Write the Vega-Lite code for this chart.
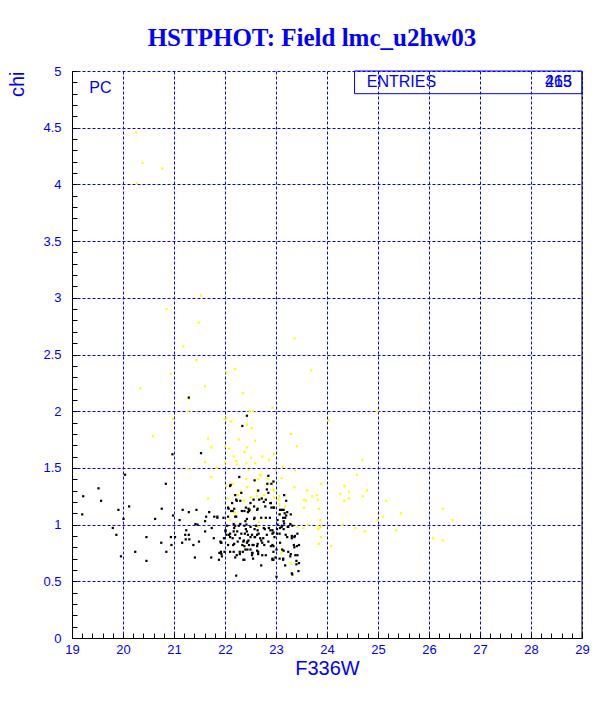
{
  "$schema": "https://vega.github.io/schema/vega-lite/v6.json",
  "width": 510,
  "height": 567,
  "autosize": {"type": "none"},
  "padding": {"left": 72, "top": 71, "right": 30, "bottom": 71},
  "background": "white",
  "config": {"view": {"stroke": null}},
  "title": {"text": "HSTPHOT: Field lmc_u2hw03", "font": "Liberation Serif", "fontSize": 25, "fontWeight": "bold", "color": "#0000ff", "anchor": "middle", "dx": -15, "offset": 14},
  "encoding": {
    "x": {
      "field": "m", "type": "quantitative",
      "scale": {"domain": [19, 29], "nice": false, "zero": false},
      "axis": {
        "title": "F336W", "titleFont": "Liberation Sans", "titleFontSize": 20, "titleFontWeight": "normal", "titleColor": "#0000ff",
        "titlePadding": 2,
        "values": [19,19.2,19.4,19.6,19.8,20,20.2,20.4,20.6,20.8,21,21.2,21.4,21.6,21.8,22,22.2,22.4,22.6,22.8,23,23.2,23.4,23.6,23.8,24,24.2,24.4,24.6,24.8,25,25.2,25.4,25.6,25.8,26,26.2,26.4,26.6,26.8,27,27.2,27.4,27.6,27.8,28,28.2,28.4,28.6,28.8,29],
        "labelExpr": "abs(datum.value - round(datum.value)) < 0.001 ? format(datum.value, 'd') : ''",
        "labelFont": "Liberation Sans", "labelFontSize": 13, "labelColor": "#0000ff", "labelPadding": 10, "labelFlush": false, "labelOverlap": false,
        "tickSize": -5, "tickColor": "#000000", "domainColor": "#000000", "domainWidth": 1,
        "grid": true, "gridColor": "#0000ff", "gridDash": [3, 2], "gridWidth": 1,
        "gridOpacity": {"condition": {"test": "abs(datum.value - round(datum.value)) < 0.001", "value": 1}, "value": 0}
      }
    },
    "y": {
      "field": "chi", "type": "quantitative",
      "scale": {"domain": [0, 5], "nice": false, "zero": false},
      "axis": {
        "title": "chi", "titleFont": "Liberation Sans", "titleFontSize": 20, "titleFontWeight": "normal", "titleColor": "#0000ff",
        "titleAnchor": "end", "titlePadding": 15,
        "values": [0,0.1,0.2,0.3,0.4,0.5,0.6,0.7,0.8,0.9,1,1.1,1.2,1.3,1.4,1.5,1.6,1.7,1.8,1.9,2,2.1,2.2,2.3,2.4,2.5,2.6,2.7,2.8,2.9,3,3.1,3.2,3.3,3.4,3.5,3.6,3.7,3.8,3.9,4,4.1,4.2,4.3,4.4,4.5,4.6,4.7,4.8,4.9,5],
        "labelExpr": "abs(datum.value*2 - round(datum.value*2)) < 0.001 ? format(datum.value, '~g') : ''",
        "labelFont": "Liberation Sans", "labelFontSize": 13, "labelColor": "#0000ff", "labelPadding": 16, "labelFlush": false, "labelOverlap": false,
        "tickSize": -5, "tickColor": "#000000", "domainColor": "#000000", "domainWidth": 1,
        "grid": true, "gridColor": "#0000ff", "gridDash": [3, 2], "gridWidth": 1,
        "gridOpacity": {"condition": {"test": "abs(datum.value*2 - round(datum.value*2)) < 0.001", "value": 1}, "value": 0}
      }
    }
  },
  "layer": [
    {
      "data": {"values": [
        {"m":20.26,"chi":4.46,"c":"y"},{"m":20.38,"chi":4.19,"c":"y"},{"m":20.77,"chi":4.14,"c":"y"},{"m":20.27,"chi":4.01,"c":"y"},
        {"m":21.53,"chi":3.02,"c":"y"},{"m":20.85,"chi":2.90,"c":"y"},{"m":21.49,"chi":2.78,"c":"y"},{"m":21.18,"chi":2.57,"c":"y"},
        {"m":23.36,"chi":2.64,"c":"y"},{"m":21.44,"chi":2.45,"c":"y"},{"m":20.94,"chi":2.33,"c":"y"},{"m":22.03,"chi":2.34,"c":"y"},
        {"m":22.20,"chi":2.37,"c":"y"},{"m":23.69,"chi":2.36,"c":"y"},
        {"m":20.34,"chi":2.20,"c":"y"},{"m":21.61,"chi":2.22,"c":"y"},{"m":21.29,"chi":2.11,"c":"y"},{"m":22.35,"chi":2.16,"c":"y"},
        {"m":21.28,"chi":2.00,"c":"y"},{"m":20.98,"chi":1.93,"c":"y"},{"m":20.59,"chi":1.78,"c":"y"},{"m":21.67,"chi":1.76,"c":"y"},
        {"m":21.73,"chi":1.68,"c":"y"},{"m":21.61,"chi":1.55,"c":"y"},{"m":21.28,"chi":1.49,"c":"y"},{"m":21.73,"chi":1.42,"c":"y"},
        {"m":21.67,"chi":1.23,"c":"y"},{"m":21.99,"chi":1.93,"c":"y"},{"m":22.03,"chi":1.94,"c":"y"},{"m":22.12,"chi":1.91,"c":"y"},
        {"m":22.48,"chi":2.00,"c":"y"},{"m":22.55,"chi":2.00,"c":"y"},{"m":22.43,"chi":1.88,"c":"y"},{"m":22.52,"chi":1.85,"c":"y"},
        {"m":22.59,"chi":1.74,"c":"y"},{"m":22.27,"chi":1.75,"c":"y"},{"m":22.00,"chi":1.69,"c":"y"},{"m":22.08,"chi":1.67,"c":"y"},
        {"m":22.43,"chi":1.68,"c":"y"},{"m":22.38,"chi":1.64,"c":"y"},{"m":22.17,"chi":1.60,"c":"y"},{"m":22.22,"chi":1.56,"c":"y"},
        {"m":22.51,"chi":1.59,"c":"y"},{"m":22.00,"chi":1.55,"c":"y"},{"m":22.24,"chi":1.53,"c":"y"},{"m":22.42,"chi":1.54,"c":"y"},
        {"m":22.59,"chi":1.54,"c":"y"},{"m":21.84,"chi":1.50,"c":"y"},{"m":22.46,"chi":1.48,"c":"y"},{"m":22.68,"chi":1.44,"c":"y"},
        {"m":22.42,"chi":1.40,"c":"y"},{"m":22.65,"chi":1.40,"c":"y"},{"m":22.16,"chi":1.36,"c":"y"},{"m":22.03,"chi":1.34,"c":"y"},
        {"m":22.43,"chi":1.33,"c":"y"},{"m":22.31,"chi":1.29,"c":"y"},{"m":22.25,"chi":1.26,"c":"y"},{"m":22.63,"chi":1.30,"c":"y"},
        {"m":22.04,"chi":1.23,"c":"y"},{"m":22.51,"chi":1.24,"c":"y"},{"m":22.50,"chi":1.13,"c":"y"},{"m":22.18,"chi":1.11,"c":"y"},
        {"m":22.10,"chi":1.04,"c":"y"},{"m":22.67,"chi":1.02,"c":"y"},{"m":22.65,"chi":0.98,"c":"y"},{"m":22.34,"chi":0.82,"c":"y"},
        {"m":22.96,"chi":1.62,"c":"y"},{"m":22.84,"chi":1.40,"c":"y"},{"m":22.96,"chi":1.30,"c":"y"},{"m":22.73,"chi":1.23,"c":"y"},
        {"m":22.50,"chi":1.19,"c":"y"},{"m":22.23,"chi":1.22,"c":"y"},{"m":22.20,"chi":1.10,"c":"y"},{"m":22.86,"chi":1.57,"c":"y"},
        {"m":22.73,"chi":1.60,"c":"y"},{"m":22.76,"chi":1.26,"c":"y"},{"m":22.62,"chi":1.25,"c":"y"},{"m":22.36,"chi":1.21,"c":"y"},
        {"m":22.93,"chi":2.03,"c":"y"},{"m":24.04,"chi":1.92,"c":"y"},{"m":23.29,"chi":1.80,"c":"y"},{"m":23.41,"chi":1.69,"c":"y"},
        {"m":23.14,"chi":1.51,"c":"y"},{"m":23.37,"chi":1.48,"c":"y"},{"m":22.71,"chi":1.43,"c":"y"},{"m":23.11,"chi":1.41,"c":"y"},
        {"m":22.99,"chi":1.48,"c":"y"},{"m":22.89,"chi":1.36,"c":"y"},{"m":23.36,"chi":1.33,"c":"y"},{"m":23.61,"chi":1.30,"c":"y"},
        {"m":23.88,"chi":1.36,"c":"y"},{"m":23.71,"chi":1.25,"c":"y"},{"m":23.80,"chi":1.26,"c":"y"},{"m":23.55,"chi":1.22,"c":"y"},
        {"m":23.59,"chi":1.21,"c":"y"},{"m":22.97,"chi":1.24,"c":"y"},{"m":23.06,"chi":1.25,"c":"y"},{"m":23.18,"chi":1.16,"c":"y"},
        {"m":23.55,"chi":1.15,"c":"y"},{"m":23.84,"chi":1.14,"c":"y"},{"m":23.87,"chi":1.04,"c":"y"},{"m":23.82,"chi":0.99,"c":"y"},
        {"m":23.87,"chi":0.98,"c":"y"},{"m":23.83,"chi":0.96,"c":"y"},{"m":23.54,"chi":0.97,"c":"y"},{"m":23.42,"chi":0.98,"c":"y"},
        {"m":23.30,"chi":1.005,"c":"y"},{"m":23.88,"chi":0.89,"c":"y"},{"m":23.84,"chi":0.83,"c":"y"},{"m":24.08,"chi":0.81,"c":"y"},
        {"m":23.10,"chi":0.75,"c":"y"},{"m":23.08,"chi":1.09,"c":"y"},{"m":23.05,"chi":1.22,"c":"y"},{"m":23.07,"chi":1.18,"c":"y"},
        {"m":22.95,"chi":1.31,"c":"y"},{"m":23.82,"chi":1.22,"c":"y"},{"m":23.63,"chi":1.00,"c":"y"},{"m":23.29,"chi":0.66,"c":"y"},
        {"m":24.99,"chi":2.00,"c":"y"},{"m":24.69,"chi":1.57,"c":"y"},{"m":24.59,"chi":1.44,"c":"y"},{"m":24.34,"chi":1.34,"c":"y"},
        {"m":24.26,"chi":1.27,"c":"y"},{"m":24.43,"chi":1.29,"c":"y"},{"m":24.78,"chi":1.30,"c":"y"},{"m":24.34,"chi":1.21,"c":"y"},
        {"m":24.43,"chi":1.23,"c":"y"},{"m":24.70,"chi":1.25,"c":"y"},{"m":25.16,"chi":1.21,"c":"y"},{"m":25.45,"chi":1.10,"c":"y"},
        {"m":25.10,"chi":1.07,"c":"y"},{"m":24.99,"chi":1.04,"c":"y"},{"m":26.27,"chi":1.14,"c":"y"},{"m":26.46,"chi":1.04,"c":"y"},
        {"m":24.31,"chi":1.00,"c":"y"},{"m":24.56,"chi":0.97,"c":"y"},{"m":24.74,"chi":0.94,"c":"y"},{"m":25.36,"chi":0.95,"c":"y"},
        {"m":26.08,"chi":0.88,"c":"y"},{"m":26.27,"chi":0.86,"c":"y"},
        {"m":22.43,"chi":1.96,"c":"k"},{"m":22.34,"chi":1.87,"c":"k"},{"m":21.53,"chi":1.63,"c":"k"},{"m":20.97,"chi":1.62,"c":"k"},
        {"m":21.29,"chi":2.12,"c":"k"},{"m":20.04,"chi":1.44,"c":"k"},{"m":20.84,"chi":1.36,"c":"k"},{"m":19.52,"chi":1.32,"c":"k"},
        {"m":19.22,"chi":1.25,"c":"k"},{"m":19.57,"chi":1.21,"c":"k"},{"m":22.28,"chi":1.42,"c":"k"},{"m":22.10,"chi":1.34,"c":"k"},
        {"m":22.20,"chi":1.26,"c":"k"},{"m":22.30,"chi":1.21,"c":"k"},{"m":22.14,"chi":1.19,"c":"k"},{"m":20.12,"chi":1.16,"c":"k"},
        {"m":19.91,"chi":1.13,"c":"k"},{"m":20.76,"chi":1.14,"c":"k"},{"m":21.17,"chi":1.13,"c":"k"},{"m":21.44,"chi":1.13,"c":"k"},
        {"m":21.29,"chi":1.11,"c":"k"},{"m":21.69,"chi":1.11,"c":"k"},{"m":22.06,"chi":1.15,"c":"k"},{"m":22.12,"chi":1.12,"c":"k"},
        {"m":22.41,"chi":1.15,"c":"k"},{"m":22.48,"chi":1.13,"c":"k"},{"m":22.45,"chi":1.11,"c":"k"},{"m":19.20,"chi":1.09,"c":"k"},
        {"m":20.63,"chi":1.05,"c":"k"},{"m":20.98,"chi":1.08,"c":"k"},{"m":21.11,"chi":1.04,"c":"k"},{"m":20.01,"chi":1.05,"c":"k"},
        {"m":21.63,"chi":1.07,"c":"k"},{"m":21.79,"chi":1.07,"c":"k"},{"m":21.85,"chi":1.07,"c":"k"},{"m":21.97,"chi":1.06,"c":"k"},
        {"m":21.61,"chi":1.03,"c":"k"},{"m":22.06,"chi":1.07,"c":"k"},{"m":22.22,"chi":1.07,"c":"k"},{"m":22.43,"chi":1.05,"c":"k"},
        {"m":22.57,"chi":1.05,"c":"k"},{"m":21.42,"chi":1.005,"c":"k"},{"m":21.46,"chi":1.0,"c":"k"},{"m":22.17,"chi":1.005,"c":"k"},
        {"m":22.27,"chi":0.99,"c":"k"},{"m":22.38,"chi":0.99,"c":"k"},{"m":19.80,"chi":0.97,"c":"k"},{"m":19.87,"chi":0.91,"c":"k"},
        {"m":20.46,"chi":0.89,"c":"k"},{"m":20.94,"chi":0.89,"c":"k"},{"m":21.02,"chi":0.89,"c":"k"},{"m":21.24,"chi":0.95,"c":"k"},
        {"m":21.22,"chi":0.91,"c":"k"},{"m":21.29,"chi":0.91,"c":"k"},{"m":21.74,"chi":0.97,"c":"k"},{"m":21.61,"chi":0.94,"c":"k"},
        {"m":21.78,"chi":0.88,"c":"k"},{"m":22.01,"chi":0.94,"c":"k"},{"m":22.03,"chi":0.91,"c":"k"},{"m":22.10,"chi":0.89,"c":"k"},
        {"m":22.17,"chi":0.94,"c":"k"},{"m":22.24,"chi":0.94,"c":"k"},{"m":22.20,"chi":0.91,"c":"k"},{"m":22.43,"chi":0.94,"c":"k"},
        {"m":22.45,"chi":0.91,"c":"k"},{"m":22.53,"chi":0.91,"c":"k"},{"m":22.59,"chi":0.89,"c":"k"},{"m":22.64,"chi":0.95,"c":"k"},
        {"m":21.23,"chi":0.87,"c":"k"},{"m":21.30,"chi":0.87,"c":"k"},{"m":21.38,"chi":0.82,"c":"k"},{"m":20.75,"chi":0.84,"c":"k"},
        {"m":20.95,"chi":0.82,"c":"k"},{"m":21.16,"chi":0.84,"c":"k"},{"m":21.49,"chi":0.85,"c":"k"},{"m":21.92,"chi":0.84,"c":"k"},
        {"m":22.06,"chi":0.82,"c":"k"},{"m":22.16,"chi":0.82,"c":"k"},{"m":22.25,"chi":0.85,"c":"k"},{"m":22.36,"chi":0.85,"c":"k"},
        {"m":22.44,"chi":0.85,"c":"k"},{"m":22.38,"chi":0.81,"c":"k"},{"m":22.47,"chi":0.82,"c":"k"},{"m":22.54,"chi":0.82,"c":"k"},
        {"m":20.24,"chi":0.76,"c":"k"},{"m":20.85,"chi":0.76,"c":"k"},{"m":19.96,"chi":0.72,"c":"k"},{"m":20.46,"chi":0.68,"c":"k"},
        {"m":21.41,"chi":0.71,"c":"k"},{"m":21.73,"chi":0.71,"c":"k"},{"m":21.88,"chi":0.69,"c":"k"},{"m":21.93,"chi":0.74,"c":"k"},
        {"m":21.99,"chi":0.76,"c":"k"},{"m":22.10,"chi":0.76,"c":"k"},{"m":22.20,"chi":0.71,"c":"k"},{"m":22.29,"chi":0.76,"c":"k"},
        {"m":22.36,"chi":0.69,"c":"k"},{"m":22.40,"chi":0.78,"c":"k"},{"m":22.50,"chi":0.78,"c":"k"},{"m":22.53,"chi":0.75,"c":"k"},
        {"m":22.55,"chi":0.70,"c":"k"},{"m":22.65,"chi":0.74,"c":"k"},{"m":22.22,"chi":0.55,"c":"k"},
        {"m":22.85,"chi":1.43,"c":"k"},{"m":22.91,"chi":1.36,"c":"k"},{"m":22.82,"chi":1.31,"c":"k"},{"m":22.72,"chi":1.23,"c":"k"},
        {"m":22.80,"chi":1.22,"c":"k"},{"m":22.90,"chi":1.19,"c":"k"},{"m":22.95,"chi":1.15,"c":"k"},{"m":22.91,"chi":1.15,"c":"k"},
        {"m":23.16,"chi":1.26,"c":"k"},{"m":23.20,"chi":1.21,"c":"k"},{"m":23.12,"chi":1.13,"c":"k"},{"m":23.17,"chi":1.10,"c":"k"},
        {"m":23.20,"chi":1.08,"c":"k"},{"m":23.14,"chi":1.06,"c":"k"},{"m":23.03,"chi":1.04,"c":"k"},{"m":23.07,"chi":1.09,"c":"k"},
        {"m":23.29,"chi":1.09,"c":"k"},{"m":23.03,"chi":1.00,"c":"k"},{"m":23.11,"chi":0.98,"c":"k"},{"m":23.16,"chi":1.01,"c":"k"},
        {"m":23.24,"chi":0.98,"c":"k"},{"m":22.76,"chi":0.97,"c":"k"},{"m":22.86,"chi":0.97,"c":"k"},{"m":22.93,"chi":0.92,"c":"k"},
        {"m":22.82,"chi":0.91,"c":"k"},{"m":23.02,"chi":0.92,"c":"k"},{"m":23.08,"chi":0.84,"c":"k"},{"m":23.19,"chi":0.91,"c":"k"},
        {"m":23.31,"chi":0.90,"c":"k"},{"m":23.37,"chi":0.90,"c":"k"},{"m":23.42,"chi":0.92,"c":"k"},{"m":22.71,"chi":0.86,"c":"k"},
        {"m":22.77,"chi":0.82,"c":"k"},{"m":22.90,"chi":0.81,"c":"k"},{"m":22.95,"chi":0.76,"c":"k"},{"m":22.99,"chi":0.71,"c":"k"},
        {"m":23.14,"chi":0.70,"c":"k"},{"m":23.15,"chi":0.77,"c":"k"},{"m":23.29,"chi":0.74,"c":"k"},{"m":23.35,"chi":0.82,"c":"k"},
        {"m":23.41,"chi":0.81,"c":"k"},{"m":23.45,"chi":0.82,"c":"k"},{"m":23.42,"chi":0.73,"c":"k"},{"m":23.40,"chi":0.68,"c":"k"},
        {"m":23.45,"chi":0.66,"c":"k"},{"m":23.31,"chi":0.57,"c":"k"},{"m":23.01,"chi":0.54,"c":"k"},
        {"m":22.50,"chi":1.19,"c":"k"},{"m":22.56,"chi":1.22,"c":"k"},{"m":22.67,"chi":1.22,"c":"k"},{"m":22.22,"chi":1.22,"c":"k"},
        {"m":22.18,"chi":1.14,"c":"k"},{"m":22.33,"chi":1.12,"c":"k"},{"m":22.47,"chi":1.12,"c":"k"},{"m":22.57,"chi":1.16,"c":"k"},
        {"m":22.64,"chi":1.14,"c":"k"},{"m":22.04,"chi":0.99,"c":"k"},{"m":22.20,"chi":0.99,"c":"k"},{"m":22.30,"chi":1.005,"c":"k"},
        {"m":22.42,"chi":1.0,"c":"k"},{"m":22.50,"chi":0.98,"c":"k"},{"m":22.61,"chi":0.99,"c":"k"},{"m":22.08,"chi":0.91,"c":"k"},
        {"m":22.29,"chi":0.88,"c":"k"},{"m":22.39,"chi":0.92,"c":"k"},{"m":22.50,"chi":0.89,"c":"k"},{"m":22.63,"chi":0.91,"c":"k"},
        {"m":22.69,"chi":0.88,"c":"k"},{"m":21.93,"chi":0.84,"c":"k"},{"m":22.18,"chi":0.83,"c":"k"},{"m":22.34,"chi":0.82,"c":"k"},
        {"m":22.43,"chi":0.84,"c":"k"},{"m":22.56,"chi":0.82,"c":"k"},{"m":22.64,"chi":0.83,"c":"k"},{"m":22.73,"chi":0.84,"c":"k"},
        {"m":21.92,"chi":0.76,"c":"k"},{"m":22.17,"chi":0.76,"c":"k"},{"m":22.29,"chi":0.74,"c":"k"},{"m":22.54,"chi":0.75,"c":"k"},
        {"m":22.63,"chi":0.77,"c":"k"},{"m":22.73,"chi":0.73,"c":"k"},{"m":22.93,"chi":0.69,"c":"k"},{"m":22.71,"chi":0.64,"c":"k"},
        {"m":23.08,"chi":1.13,"c":"k"},{"m":23.15,"chi":1.13,"c":"k"},{"m":23.22,"chi":1.11,"c":"k"},{"m":23.18,"chi":1.06,"c":"k"},
        {"m":23.15,"chi":1.03,"c":"k"},{"m":23.12,"chi":0.99,"c":"k"},{"m":23.28,"chi":1.005,"c":"k"},{"m":23.32,"chi":0.99,"c":"k"},
        {"m":23.23,"chi":0.98,"c":"k"},{"m":23.15,"chi":0.96,"c":"k"},{"m":23.08,"chi":0.97,"c":"k"},{"m":22.93,"chi":0.95,"c":"k"},
        {"m":23.02,"chi":0.96,"c":"k"},{"m":23.07,"chi":0.92,"c":"k"},{"m":22.97,"chi":0.89,"c":"k"},{"m":23.22,"chi":0.89,"c":"k"},
        {"m":23.31,"chi":0.88,"c":"k"},{"m":23.36,"chi":0.89,"c":"k"},{"m":22.95,"chi":0.81,"c":"k"},{"m":23.01,"chi":0.78,"c":"k"},
        {"m":23.12,"chi":0.78,"c":"k"},{"m":23.24,"chi":0.76,"c":"k"},{"m":23.36,"chi":0.80,"c":"k"},{"m":23.38,"chi":0.73,"c":"k"},
        {"m":23.28,"chi":0.72,"c":"k"},{"m":23.14,"chi":0.69,"c":"k"},{"m":23.07,"chi":0.70,"c":"k"},{"m":22.95,"chi":0.69,"c":"k"},
        {"m":23.40,"chi":0.65,"c":"k"},{"m":23.44,"chi":0.59,"c":"k"},{"m":23.18,"chi":0.64,"c":"k"},{"m":23.32,"chi":0.56,"c":"k"},
        {"m":22.83,"chi":1.36,"c":"k"},{"m":22.58,"chi":1.39,"c":"k"},{"m":22.11,"chi":1.35,"c":"k"},{"m":22.32,"chi":1.28,"c":"k"},
        {"m":22.85,"chi":1.28,"c":"k"},{"m":22.65,"chi":1.30,"c":"k"},{"m":22.95,"chi":1.38,"c":"k"},{"m":22.23,"chi":1.21,"c":"k"},
        {"m":22.76,"chi":1.20,"c":"k"},{"m":22.89,"chi":1.19,"c":"k"},{"m":22.07,"chi":1.14,"c":"k"},{"m":22.15,"chi":1.12,"c":"k"},
        {"m":22.38,"chi":1.12,"c":"k"},{"m":22.46,"chi":1.14,"c":"k"},{"m":22.63,"chi":1.13,"c":"k"},{"m":22.79,"chi":1.16,"c":"k"},
        {"m":22.96,"chi":1.15,"c":"k"},{"m":21.85,"chi":1.06,"c":"k"},{"m":22.20,"chi":1.07,"c":"k"},{"m":22.40,"chi":1.03,"c":"k"},
        {"m":22.58,"chi":1.06,"c":"k"},{"m":22.71,"chi":1.06,"c":"k"},{"m":22.80,"chi":1.06,"c":"k"},{"m":22.88,"chi":1.06,"c":"k"},
        {"m":22.01,"chi":0.95,"c":"k"},{"m":22.10,"chi":0.92,"c":"k"},{"m":22.18,"chi":0.97,"c":"k"},{"m":22.32,"chi":0.92,"c":"k"},
        {"m":22.41,"chi":0.96,"c":"k"},{"m":22.58,"chi":0.96,"c":"k"},{"m":22.66,"chi":0.92,"c":"k"},{"m":22.78,"chi":0.96,"c":"k"},
        {"m":22.89,"chi":0.95,"c":"k"},{"m":22.95,"chi":0.93,"c":"k"},{"m":21.91,"chi":0.85,"c":"k"},{"m":21.98,"chi":0.88,"c":"k"},
        {"m":22.15,"chi":0.88,"c":"k"},{"m":22.37,"chi":0.86,"c":"k"},{"m":22.46,"chi":0.86,"c":"k"},{"m":22.58,"chi":0.89,"c":"k"},
        {"m":22.63,"chi":0.81,"c":"k"},{"m":22.75,"chi":0.88,"c":"k"},{"m":22.85,"chi":0.85,"c":"k"},{"m":22.93,"chi":0.82,"c":"k"},
        {"m":21.89,"chi":0.75,"c":"k"},{"m":21.94,"chi":0.72,"c":"k"},{"m":22.23,"chi":0.73,"c":"k"},{"m":22.35,"chi":0.76,"c":"k"},
        {"m":22.44,"chi":0.78,"c":"k"},{"m":22.53,"chi":0.73,"c":"k"},{"m":22.65,"chi":0.76,"c":"k"},{"m":22.80,"chi":0.73,"c":"k"},
        {"m":22.93,"chi":0.70,"c":"k"},{"m":22.38,"chi":0.69,"c":"k"}
      ]},
      "mark": {"type": "square", "size": 5, "opacity": 1, "strokeWidth": 0},
      "encoding": {
        "color": {"field": "c", "type": "nominal", "scale": {"domain": ["k", "y"], "range": ["#000000", "#ffff00"]}, "legend": null}
      }
    },
    {
      "data": {"values": [{"m": 29, "chi": 0, "chi2": 5}]},
      "mark": {"type": "rule", "color": "#000000", "strokeWidth": 1},
      "encoding": {"y2": {"field": "chi2"}}
    },
    {
      "data": {"values": [{"m": 24.54, "m2": 29, "chi": 4.80, "chi2": 5}]},
      "mark": {"type": "rect", "fillOpacity": 0, "stroke": "#0000ff", "strokeWidth": 1},
      "encoding": {"x2": {"field": "m2"}, "y2": {"field": "chi2"}}
    },
    {
      "data": {"values": [{"m": 19.34, "chi": 4.85, "t": "PC"}, {"m": 24.78, "chi": 4.90, "t": "ENTRIES"}]},
      "mark": {"type": "text", "align": "left", "baseline": "middle", "font": "Liberation Sans", "fontSize": 16, "color": "#0000ff"},
      "encoding": {"text": {"field": "t"}}
    },
    {
      "data": {"values": [{"m": 28.80, "chi": 4.90, "t": "263"}, {"m": 28.80, "chi": 4.90, "t": "415"}]},
      "mark": {"type": "text", "align": "right", "baseline": "middle", "font": "Liberation Sans", "fontSize": 16, "color": "#0000ff"},
      "encoding": {"text": {"field": "t"}}
    }
  ]
}
